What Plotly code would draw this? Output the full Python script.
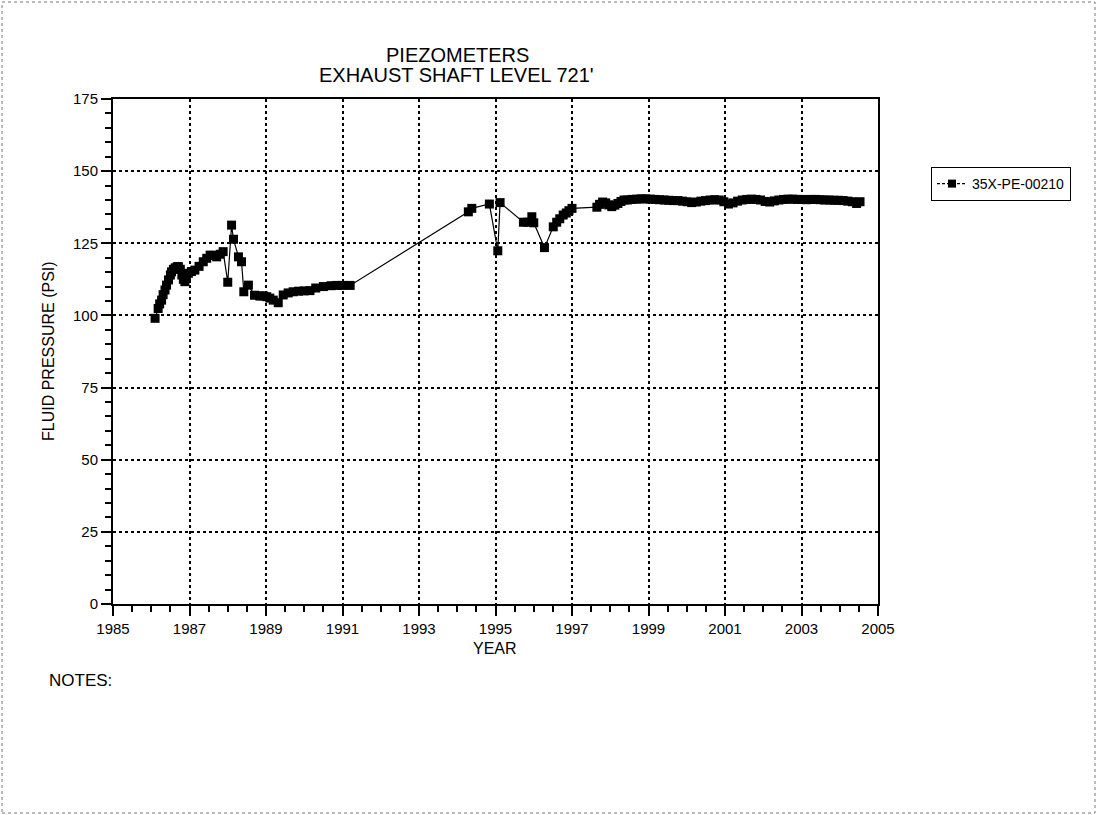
import plotly.graph_objects as go

# ---- data (decimal years, psi) ----
years_a = [1986.10, 1986.18, 1986.22, 1986.27, 1986.31, 1986.36, 1986.40, 1986.45, 1986.50,
           1986.53, 1986.58, 1986.63, 1986.68, 1986.71, 1986.76, 1986.80, 1986.84, 1986.88,
           1986.92, 1986.97, 1987.05, 1987.14, 1987.25, 1987.36, 1987.45, 1987.54, 1987.62,
           1987.71, 1987.80, 1987.88, 1988.00, 1988.10, 1988.15, 1988.28, 1988.36, 1988.42,
           1988.54, 1988.70, 1988.84, 1988.93, 1989.02, 1989.10, 1989.19, 1989.32, 1989.45,
           1989.58, 1989.71, 1989.85, 1990.00, 1990.15, 1990.30, 1990.50, 1990.70, 1990.85,
           1991.00, 1991.20]
psi_a = [99.0, 102.4, 104.0, 105.3, 107.2, 108.8, 110.5, 112.3, 114.0,
         115.1, 116.0, 116.5, 116.9, 116.9, 116.0, 114.0, 112.5, 111.7,
         112.8, 114.6, 115.2, 115.7, 117.0, 118.6, 119.8, 120.9, 120.8,
         120.3, 121.2, 122.1, 111.5, 131.3, 126.4, 120.3, 118.6, 108.2,
         110.5, 107.0, 106.7, 106.8, 106.5, 106.0, 105.3, 104.4, 107.1,
         107.8, 108.2, 108.4, 108.5, 108.6, 109.5, 110.0, 110.3, 110.4,
         110.4, 110.4]

years_b = [1994.29, 1994.38, 1994.84, 1995.06, 1995.12, 1995.73, 1995.84, 1995.95, 1996.00,
           1996.28, 1996.51, 1996.60, 1996.68, 1996.77, 1996.85, 1996.92, 1997.00]
psi_b = [135.9, 137.1, 138.6, 122.4, 139.1, 132.3, 132.3, 134.2, 132.1,
         123.5, 130.7, 132.3, 133.5, 134.8, 135.5, 136.3, 137.1]

years_c = [1997.65, 1997.72, 1997.80, 1997.88, 1997.96, 1998.04, 1998.12, 1998.20, 1998.28,
           1998.36, 1998.45, 1998.57, 1998.69, 1998.81, 1998.93, 1999.05, 1999.17, 1999.29,
           1999.41, 1999.53, 1999.65, 1999.77, 1999.89, 2000.01, 2000.13, 2000.25, 2000.37,
           2000.49, 2000.61, 2000.73, 2000.85, 2000.97, 2001.09, 2001.21, 2001.33, 2001.45,
           2001.57, 2001.69, 2001.81, 2001.93, 2002.05, 2002.17, 2002.29, 2002.41, 2002.53,
           2002.65, 2002.77, 2002.89, 2003.01, 2003.13, 2003.25, 2003.37, 2003.49, 2003.61,
           2003.73, 2003.85, 2003.97, 2004.09, 2004.21, 2004.33, 2004.44, 2004.53]
psi_c = [137.5, 138.5, 139.3, 139.0, 138.3, 137.7, 138.2, 138.8, 139.5,
         140.0, 140.0, 140.2, 140.3, 140.4, 140.4, 140.3, 140.2, 140.1,
         140.0, 139.9, 139.8, 139.8, 139.6, 139.4, 139.1, 139.3, 139.6,
         139.8, 140.0, 140.1, 140.0, 139.4, 138.6, 139.0, 139.6, 140.0,
         140.2, 140.3, 140.2, 140.0, 139.5, 139.3, 139.7, 140.0, 140.2,
         140.3, 140.3, 140.2, 140.2, 140.1, 140.2, 140.2, 140.1, 140.0,
         140.0, 139.9, 139.9, 139.8, 139.6, 139.4, 138.8, 139.4]

years = years_a + years_b + years_c
psi = psi_a + psi_b + psi_c

series_name = "35X-PE-00210"
title_lines = ["PIEZOMETERS", "EXHAUST SHAFT LEVEL 721'"]
x_title = "YEAR"
y_title = "FLUID PRESSURE (PSI)"
notes_text = "NOTES:"

FONT = "Liberation Sans, Arial, sans-serif"

fig = go.Figure()
fig.add_trace(go.Scatter(
    x=years, y=psi, mode="lines+markers", name=series_name, showlegend=False,
    line=dict(color="black", width=1.2),
    marker=dict(symbol="square", size=9, color="black"),
))
# legend entry (dashed sample as in the original legend)
fig.add_trace(go.Scatter(
    x=[None], y=[None], mode="lines+markers", name=series_name, showlegend=True,
    line=dict(color="black", width=1.2, dash="3px,2px"),
    marker=dict(symbol="square", size=8, color="black"),
))

W, H = 1097, 815
L, R, T, B = 113, 878, 99, 604
pw, ph = R - L, B - T


def px_x(p):
    return (p - L) / pw


def px_y(p):
    return (B - p) / ph


axis_common = dict(
    showline=True, linecolor="black", linewidth=2, mirror=True,
    showgrid=True, gridcolor="black", griddash="dot", gridwidth=1.5,
    zeroline=False, ticks="outside", tickwidth=2, tickcolor="black",
    tickfont=dict(family=FONT, size=15, color="black"),
)

fig.update_layout(
    width=W, height=H,
    margin=dict(l=L, r=W - R, t=T, b=H - B, pad=0),
    paper_bgcolor="white", plot_bgcolor="white",
    font=dict(family=FONT, color="black"),
    showlegend=True,
    legend=dict(x=px_x(931), y=px_y(167), xanchor="left", yanchor="top",
                bordercolor="black", borderwidth=1, bgcolor="white",
                font=dict(family=FONT, size=14, color="black")),
    xaxis=dict(range=[1985, 2005], tickmode="linear", tick0=1985, dtick=2, ticklen=10,
               minor=dict(dtick=0.5, tick0=1985, ticks="outside", ticklen=6, tickwidth=2,
                          tickcolor="black", showgrid=False),
               **axis_common),
    yaxis=dict(range=[0, 175], tickmode="linear", tick0=0, dtick=25, ticklen=10,
               minor=dict(dtick=5, tick0=0, ticks="outside", ticklen=6, tickwidth=2,
                          tickcolor="black", showgrid=False),
               **axis_common),
)

ann = [
    dict(text=title_lines[0], x=px_x(457), y=px_y(55), size=20),
    dict(text=title_lines[1], x=px_x(456), y=px_y(75), size=20),
    dict(text=x_title, x=px_x(495), y=px_y(648), size=16),
]
for a in ann:
    fig.add_annotation(text=a["text"], x=a["x"], y=a["y"], xref="paper", yref="paper",
                       xanchor="center", yanchor="middle", showarrow=False,
                       font=dict(family=FONT, size=a["size"], color="black"))
fig.add_annotation(text=y_title, x=px_x(48), y=px_y(351), xref="paper", yref="paper",
                   xanchor="center", yanchor="middle", showarrow=False, textangle=-90,
                   font=dict(family=FONT, size=16, color="black"))
fig.add_annotation(text=notes_text, x=px_x(47), y=px_y(680), xref="paper", yref="paper",
                   xanchor="left", yanchor="middle", showarrow=False,
                   font=dict(family=FONT, size=17, color="black"))

# page border
fig.add_shape(type="rect", xref="paper", yref="paper",
              x0=px_x(2), x1=px_x(1095), y0=px_y(813), y1=px_y(2),
              line=dict(color="#777777", width=1, dash="dot"), layer="below")

fig.write_html("out.html", config={"displayModeBar": False},
               post_script="document.body.style.margin='0';document.body.style.overflow='hidden';")
